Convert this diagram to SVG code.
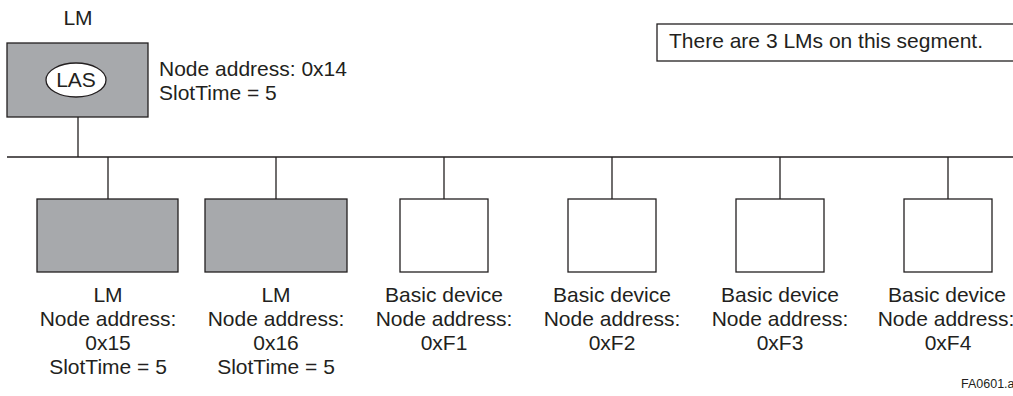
<svg xmlns="http://www.w3.org/2000/svg" width="1013" height="396" viewBox="0 0 1013 396">
<style>
text{font-family:"Liberation Sans",Arial,sans-serif;font-size:21px;fill:#231f20}
.c{text-anchor:middle}
.ln{stroke:#231f20;stroke-width:1.3;fill:none}
.lm{fill:#a7a9ac;stroke:#231f20;stroke-width:1.3}
.bd{fill:#ffffff;stroke:#231f20;stroke-width:1.3}
.sm{font-size:12.5px}
</style>
<rect width="1013" height="396" fill="#ffffff"/>
<g id="connectors">
<line class="ln" x1="7" y1="157" x2="1013" y2="157"/>
<line class="ln" x1="78" y1="117" x2="78" y2="157"/>
<line class="ln" x1="108" y1="157" x2="108" y2="199"/>
<line class="ln" x1="276" y1="157" x2="276" y2="199"/>
<line class="ln" x1="444" y1="157" x2="444" y2="199"/>
<line class="ln" x1="612" y1="157" x2="612" y2="199"/>
<line class="ln" x1="780" y1="157" x2="780" y2="199"/>
<line class="ln" x1="948" y1="157" x2="948" y2="199"/>
</g>
<g id="lm-top">
<text class="c" x="78" y="25">LM</text>
<rect class="lm" x="7" y="43" width="141" height="74"/>
<ellipse cx="76" cy="80" rx="30" ry="17" fill="#ffffff" stroke="#231f20" stroke-width="1.3"/>
<text class="c" x="76" y="87">LAS</text>
<text x="159" y="76">Node address: 0x14</text>
<text x="159" y="100">SlotTime = 5</text>
</g>
<g id="note">
<rect x="657" y="24" width="360" height="37" fill="#ffffff" stroke="#231f20" stroke-width="1.3"/>
<text x="669" y="48">There are 3 LMs on this segment.</text>
</g>
<g id="lm-15">
<rect class="lm" x="37" y="199" width="141" height="73"/>
<text class="c" x="108" y="302">LM</text>
<text class="c" x="108" y="326">Node address:</text>
<text class="c" x="108" y="350">0x15</text>
<text class="c" x="108" y="374">SlotTime = 5</text>
</g>
<g id="lm-16">
<rect class="lm" x="205" y="199" width="142" height="73"/>
<text class="c" x="276" y="302">LM</text>
<text class="c" x="276" y="326">Node address:</text>
<text class="c" x="276" y="350">0x16</text>
<text class="c" x="276" y="374">SlotTime = 5</text>
</g>
<g id="bd-f1">
<rect class="bd" x="400" y="199" width="88" height="73"/>
<text class="c" x="444" y="302">Basic device</text>
<text class="c" x="444" y="326">Node address:</text>
<text class="c" x="444" y="350">0xF1</text>
</g>
<g id="bd-f2">
<rect class="bd" x="568" y="199" width="88" height="73"/>
<text class="c" x="612" y="302">Basic device</text>
<text class="c" x="612" y="326">Node address:</text>
<text class="c" x="612" y="350">0xF2</text>
</g>
<g id="bd-f3">
<rect class="bd" x="736" y="199" width="88" height="73"/>
<text class="c" x="780" y="302">Basic device</text>
<text class="c" x="780" y="326">Node address:</text>
<text class="c" x="780" y="350">0xF3</text>
</g>
<g id="bd-f4">
<rect class="bd" x="904" y="199" width="88" height="73"/>
<text class="c" x="947" y="302">Basic device</text>
<text class="c" x="946" y="326">Node address:</text>
<text class="c" x="948" y="350">0xF4</text>
</g>
<text class="sm" x="961" y="388">FA0601.ai</text>
</svg>
